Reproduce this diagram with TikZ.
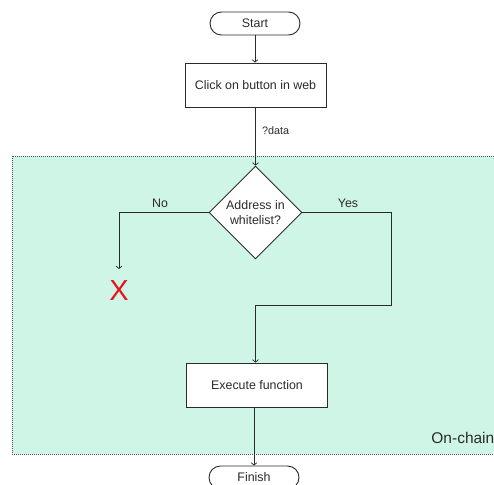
\documentclass[tikz,border=0pt]{standalone}
\usepackage{fontspec}
\setmainfont{Liberation Sans}
\usetikzlibrary{shapes.geometric,arrows.meta}
\definecolor{mint}{HTML}{CEF5E6}
\definecolor{ink}{HTML}{2B2B2B}
\definecolor{xred}{HTML}{E5141C}
\tikzset{
  every node/.style={font=\fontsize{12.4}{14}\selectfont, text=ink},
  conn/.style={draw=ink, line width=0.9pt, -{Straight Barb[length=2.5pt,width=6pt,line width=0.7pt]}},
  line/.style={draw=ink, line width=0.9pt},
  pill/.style={draw=ink, line width=0.9pt, fill=white, rounded corners=11.5pt, minimum width=90pt, minimum height=23pt, inner sep=0pt},
  procbox/.style={draw=ink, line width=0.9pt, fill=white, minimum width=141pt, minimum height=44pt, inner sep=0pt},
  decision/.style={draw=ink, line width=0.9pt, fill=white, diamond, minimum width=93pt, minimum height=93pt, inner sep=0pt, align=center, font=\fontsize{12.4}{15}\selectfont},
  lbl/.style={inner sep=0pt},
}
\begin{document}
\begin{tikzpicture}[x=1pt,y=-1pt]
\clip (0,0) rectangle (494,484);
\fill[white] (0,0) rectangle (494,484);
% On-chain region
\draw[fill=mint, draw=ink!80, line width=0.6pt, dash pattern=on 1pt off 1pt] (12,156) rectangle (510,454);
\node[lbl, anchor=base east, font=\fontsize{15.5}{17}\selectfont] (onchain) at (494.5,443) {On-chain};

\node[pill] (start) at (255,23.5) {Start};
\node[procbox] (click) at (255.5,85) {Click on button in web};
\node[decision] (dec) at (255.5,212.5) {Address in\\whitelist?};
\node[procbox] (exec) at (257,385) {Execute function};
\node[pill] (finish) at (254,477.5) {Finish};
\node[lbl, font=\fontsize{29}{30}\selectfont, text=xred] (xmark) at (119,291) {X};

\coordinate (nocorner) at (119,212.5);
\coordinate (noend) at (119,269);
\coordinate (yescorner) at (391,212.5);
\coordinate (yesdown) at (391,305);
\coordinate (yesleft) at (255.5,305);

\draw[conn] (start.south) -- (click.north -| start.south);
\draw[conn] (click.south) -- (dec.north);
\node[lbl, anchor=west, font=\fontsize{10.8}{12}\selectfont] (datalbl) at (262,131) {?data};

\draw[conn] (dec.west) -- (nocorner) -- (noend);
\node[lbl] (nolbl) at (160,203) {No};

\draw[line] (dec.east) -- (yescorner) -- (yesdown) -- (yesleft);
\draw[conn] (yesleft) -- (exec.north -| yesleft);
\node[lbl] (yeslbl) at (348,203) {Yes};

\draw[conn] (exec.south -| finish.north) -- (finish.north);
\end{tikzpicture}
\end{document}
